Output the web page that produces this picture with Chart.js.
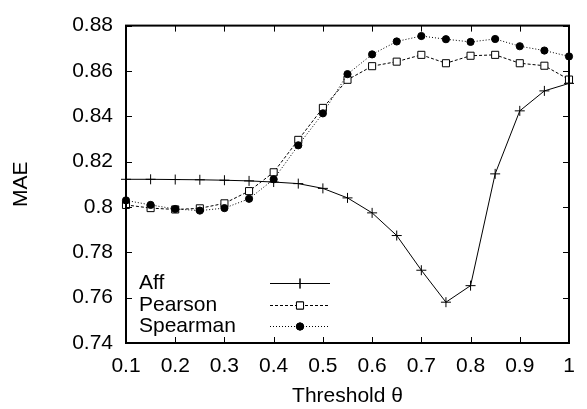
<!DOCTYPE html>
<html>
<head>
<meta charset="utf-8">
<script src="https://cdn.jsdelivr.net/npm/chart.js@4.4.1/dist/chart.umd.min.js"></script>
<style>
  html, body { margin: 0; padding: 0; background: #fff; }
  #wrap { width: 587px; height: 409px; }
</style>
</head>
<body>
<div id="wrap"><canvas id="c" width="587" height="409"></canvas></div>
<script>
// ---- data ----
const thresholds = [0.1, 0.15, 0.2, 0.25, 0.3, 0.35, 0.4, 0.45, 0.5, 0.55, 0.6, 0.65, 0.7, 0.75, 0.8, 0.85, 0.9, 0.95, 1.0];
const affMAE      = [0.8122, 0.8122, 0.8121, 0.8120, 0.8118, 0.8115, 0.8110, 0.8103, 0.8082, 0.8040, 0.7974, 0.7874, 0.7721, 0.7580, 0.7653, 0.8146, 0.8424, 0.8512, 0.8545];
const pearsonMAE  = [0.8009, 0.7995, 0.7989, 0.7994, 0.8016, 0.8070, 0.8153, 0.8296, 0.8437, 0.8561, 0.8621, 0.8641, 0.8671, 0.8634, 0.8667, 0.8671, 0.8634, 0.8623, 0.8562];
const spearmanMAE = [0.8029, 0.8009, 0.7991, 0.7984, 0.7995, 0.8036, 0.8122, 0.8272, 0.8413, 0.8586, 0.8673, 0.8730, 0.8754, 0.8740, 0.8728, 0.8741, 0.8709, 0.8690, 0.8664];
const seriesNames = ["Aff", "Pearson", "Spearman"];
const xTickLabels = ["0.1", "0.2", "0.3", "0.4", "0.5", "0.6", "0.7", "0.8", "0.9", "1"];
const yTickLabels = ["0.74", "0.76", "0.78", "0.8", "0.82", "0.84", "0.86", "0.88"];
const xTitle = "Threshold \u03b8";
const yTitle = "MAE";

const FONT = "'Liberation Sans', Arial, Helvetica, sans-serif";
Chart.defaults.color = '#000';
Chart.defaults.font.family = FONT;

function pts(ys) { return thresholds.map((x, i) => ({ x: x, y: ys[i] })); }

const tickValX = xTickLabels.map(Number);
const tickValY = yTickLabels.map(Number);

// frame + inward ticks (gnuplot style)
const framePlugin = {
  id: 'frame',
  afterDraw(chart) {
    const { ctx, chartArea: a, scales: { x, y } } = chart;
    ctx.save();
    ctx.strokeStyle = '#000';
    ctx.lineWidth = 1;
    const L = 6;
    ctx.beginPath();
    tickValX.forEach(v => {
      const px = Math.round(x.getPixelForValue(v)) + 0.5;
      ctx.moveTo(px, a.bottom); ctx.lineTo(px, a.bottom - L);
      ctx.moveTo(px, a.top); ctx.lineTo(px, a.top + L);
    });
    tickValY.forEach(v => {
      const py = Math.round(y.getPixelForValue(v)) + 0.5;
      ctx.moveTo(a.left, py); ctx.lineTo(a.left + L, py);
      ctx.moveTo(a.right, py); ctx.lineTo(a.right - L, py);
    });
    ctx.stroke();
    ctx.lineWidth = 2;
    ctx.strokeRect(a.left, a.top, a.right - a.left, a.bottom - a.top);
    ctx.restore();
  }
};

// gnuplot-style key: text left, sample right
const keyPlugin = {
  id: 'key',
  afterDraw(chart) {
    const { ctx, chartArea: a } = chart;
    ctx.save();
    ctx.font = '21px ' + FONT;
    ctx.fillStyle = '#000';
    ctx.textBaseline = 'middle';
    ctx.textAlign = 'left';
    const x0 = a.left + 13;
    const y0 = a.bottom - 60;
    const dy = 21.5;
    const s0 = a.left + 144, s1 = a.left + 204, sm = a.left + 174;
    chart.data.datasets.forEach((ds, i) => {
      const yy = Math.round(y0 + i * dy) + 0.5;
      ctx.fillText(ds.label, x0, yy);
      ctx.strokeStyle = ds.borderColor;
      ctx.lineWidth = ds.borderWidth;
      ctx.setLineDash(ds.borderDash || []);
      ctx.beginPath(); ctx.moveTo(s0, yy); ctx.lineTo(s1, yy); ctx.stroke();
      ctx.setLineDash([]);
      Chart.helpers.drawPoint(ctx, {
        pointStyle: ds.pointStyle, radius: ds.pointRadius, rotation: 0,
        borderWidth: ds.pointBorderWidth
      }, sm, yy);
      ctx.fillStyle = ds.pointBackgroundColor;
      ctx.strokeStyle = ds.pointBorderColor;
      ctx.lineWidth = ds.pointBorderWidth;
      ctx.beginPath();
      Chart.helpers.drawPoint(ctx, {
        pointStyle: ds.pointStyle, radius: ds.pointRadius, rotation: 0,
        borderWidth: ds.pointBorderWidth
      }, sm, yy);
      ctx.fillStyle = '#000';
    });
    ctx.restore();
  }
};

new Chart(document.getElementById('c'), {
  type: 'line',
  data: {
    datasets: [
      {
        label: seriesNames[0], data: pts(affMAE), order: 3,
        borderColor: '#000', borderWidth: 1, pointStyle: 'cross', pointRadius: 5,
        pointBorderColor: '#000', pointBackgroundColor: '#000', pointBorderWidth: 1,
        fill: false, tension: 0, clip: false
      },
      {
        label: seriesNames[1], data: pts(pearsonMAE), order: 2,
        borderColor: '#000', borderWidth: 1, borderDash: [3, 2], pointStyle: 'rect', pointRadius: 5,
        pointBorderColor: '#000', pointBackgroundColor: '#fff', pointBorderWidth: 1,
        fill: false, tension: 0, clip: false
      },
      {
        label: seriesNames[2], data: pts(spearmanMAE), order: 1,
        borderColor: '#000', borderWidth: 1, borderDash: [1, 2], pointStyle: 'circle', pointRadius: 3.6,
        pointBorderColor: '#000', pointBackgroundColor: '#000', pointBorderWidth: 1,
        fill: false, tension: 0, clip: false
      }
    ]
  },
  options: {
    responsive: false,
    animation: false,
    devicePixelRatio: 1,
    layout: { padding: { top: 0, right: 18, left: 0, bottom: 0 } },
    plugins: { legend: { display: false }, tooltip: { enabled: false } },
    elements: { point: { hoverRadius: 4 } },
    scales: {
      x: {
        type: 'linear', min: 0.1, max: 1,
        afterBuildTicks(s) { s.ticks = tickValX.map(v => ({ value: v })); },
        afterFit(s) { s.height = 66; },
        grid: { display: false, drawTicks: false },
        border: { display: false },
        ticks: {
          padding: 11,
          font: { size: 21, family: FONT },
          color: '#000',
          callback: (v) => { const i = tickValX.findIndex(t => Math.abs(t - v) < 1e-9); return i >= 0 ? xTickLabels[i] : ''; }
        },
        title: { display: true, text: xTitle, font: { size: 21, family: FONT }, color: '#000', padding: { top: 0, bottom: 0 } }
      },
      y: {
        type: 'linear', min: 0.74, max: 0.88,
        afterBuildTicks(s) { s.ticks = tickValY.map(v => ({ value: v })); },
        afterFit(s) { s.width = 126; },
        grid: { display: false, drawTicks: false },
        border: { display: false },
        ticks: {
          padding: 13,
          font: { size: 21, family: FONT },
          color: '#000',
          callback: (v) => { const i = tickValY.findIndex(t => Math.abs(t - v) < 1e-9); return i >= 0 ? yTickLabels[i] : ''; }
        },
        title: { display: true, text: yTitle, font: { size: 21, family: FONT }, color: '#000', padding: { top: 9, bottom: 0 } }
      }
    }
  },
  plugins: [framePlugin, keyPlugin]
});
</script>
</body>
</html>
